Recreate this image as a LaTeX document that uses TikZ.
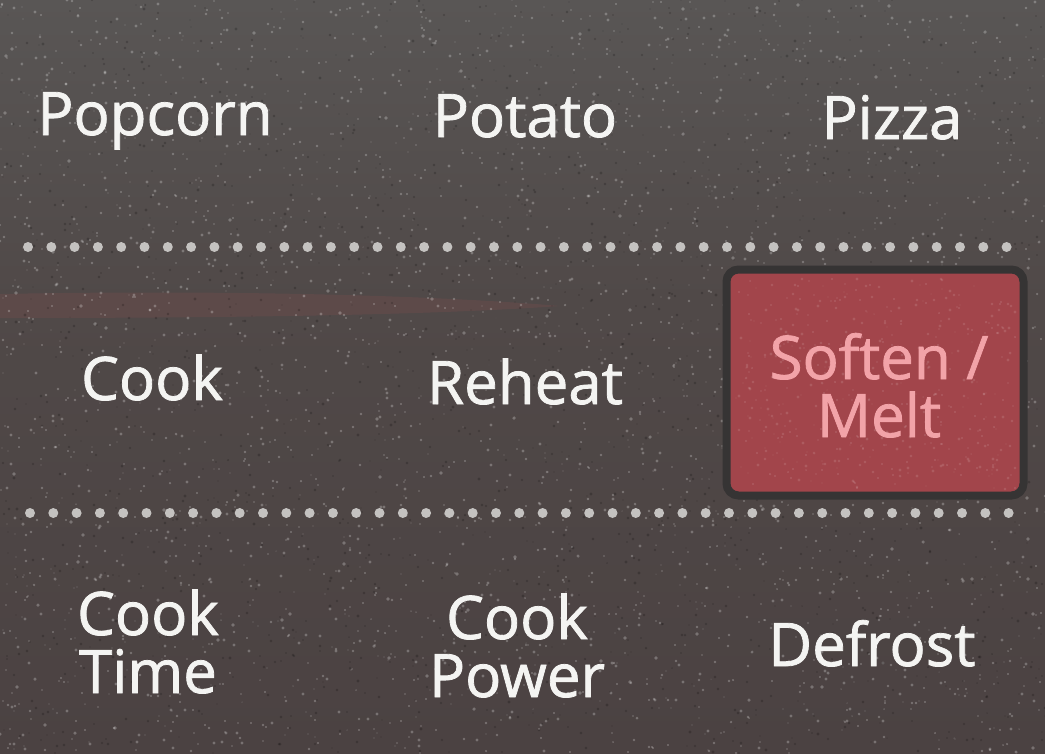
\documentclass[tikz,border=0pt]{standalone}
\usepackage{fontspec}
\setmainfont[FakeBold=1.3]{Open Sans}
\definecolor{bgtop}{HTML}{595655}
\definecolor{bgmid}{HTML}{504948}
\definecolor{bgbot}{HTML}{4B4242}
\definecolor{dotc}{HTML}{C4C2C0}
\definecolor{keyred}{HTML}{A2454B}
\definecolor{keyedge}{HTML}{363434}
\definecolor{keytext}{HTML}{F2A3A8}
\definecolor{labtext}{HTML}{F4F4F2}
\tikzset{
  lab/.style={text=labtext, font=\fontsize{60}{58}\selectfont, align=center, inner sep=0pt},
  redlab/.style={lab, text=keytext},
  dotmark/.style={fill=dotc},
}
\begin{document}
\begin{tikzpicture}[x=1pt,y=-1pt]
\useasboundingbox (0,0) rectangle (1045,753);
% background
\shade[top color=bgtop, bottom color=bgmid] (0,0) rectangle (1045,300);
\shade[top color=bgmid, bottom color=bgbot] (0,300) rectangle (1045,753);
% reddish streak
\fill[red!35!gray, opacity=0.15] (0,294) .. controls (200,290) and (420,294) .. (560,306) .. controls (420,316) and (200,318) .. (0,318) -- cycle;
% speckles
\pgfmathsetseed{42}
\foreach \i in {1,...,3200}{
  \pgfmathsetmacro\xx{random(0,1045)}
  \pgfmathsetmacro\yy{random(0,753)}
  \pgfmathsetmacro\rr{0.5+rnd*1.3}
  \fill[white, opacity=0.25] (\xx,\yy) circle (\rr);
}
\foreach \i in {1,...,1500}{
  \pgfmathsetmacro\xx{random(0,1045)}
  \pgfmathsetmacro\yy{random(0,753)}
  \pgfmathsetmacro\rr{0.5+rnd*1.1}
  \fill[black, opacity=0.2] (\xx,\yy) circle (\rr);
}
% dotted separators
\foreach \k in {0,...,42}{
  \fill[dotmark] (28+\k*23.3,247) circle (5);
  \fill[dotmark] (30+\k*23.3,513) circle (5);
}
% highlighted key
\node[draw=keyedge, line width=8pt, fill=keyred, rounded corners=12pt, minimum width=297pt, minimum height=226pt, inner sep=0pt] (soft) at (875,382.5) {};
\pgfmathsetseed{7}
\foreach \i in {1,...,500}{
  \pgfmathsetmacro\xx{random(735,1015)}
  \pgfmathsetmacro\yy{random(279,489)}
  \pgfmathsetmacro\rr{0.5+rnd*1.2}
  \fill[white, opacity=0.12] (\xx,\yy) circle (\rr);
}
\node[redlab, anchor=base] (softtxt) at (879,437) {Soften /\\Melt};
% labels
\node[lab, anchor=base] (popcorn) at (155,135) {Popcorn};
\node[lab, anchor=base] (potato) at (525,137) {Potato};
\node[lab, anchor=base] (pizza) at (892,139) {Pizza};
\node[lab, anchor=base] (cook) at (152,400) {Cook};
\node[lab, anchor=base] (reheat) at (525,404) {Reheat};
\node[lab, anchor=base] (cooktime) at (148,693) {Cook\\Time};
\node[lab, anchor=base] (cookpower) at (517,697) {Cook\\Power};
\node[lab, anchor=base] (defrost) at (872,666) {Defrost};
\end{tikzpicture}
\end{document}
